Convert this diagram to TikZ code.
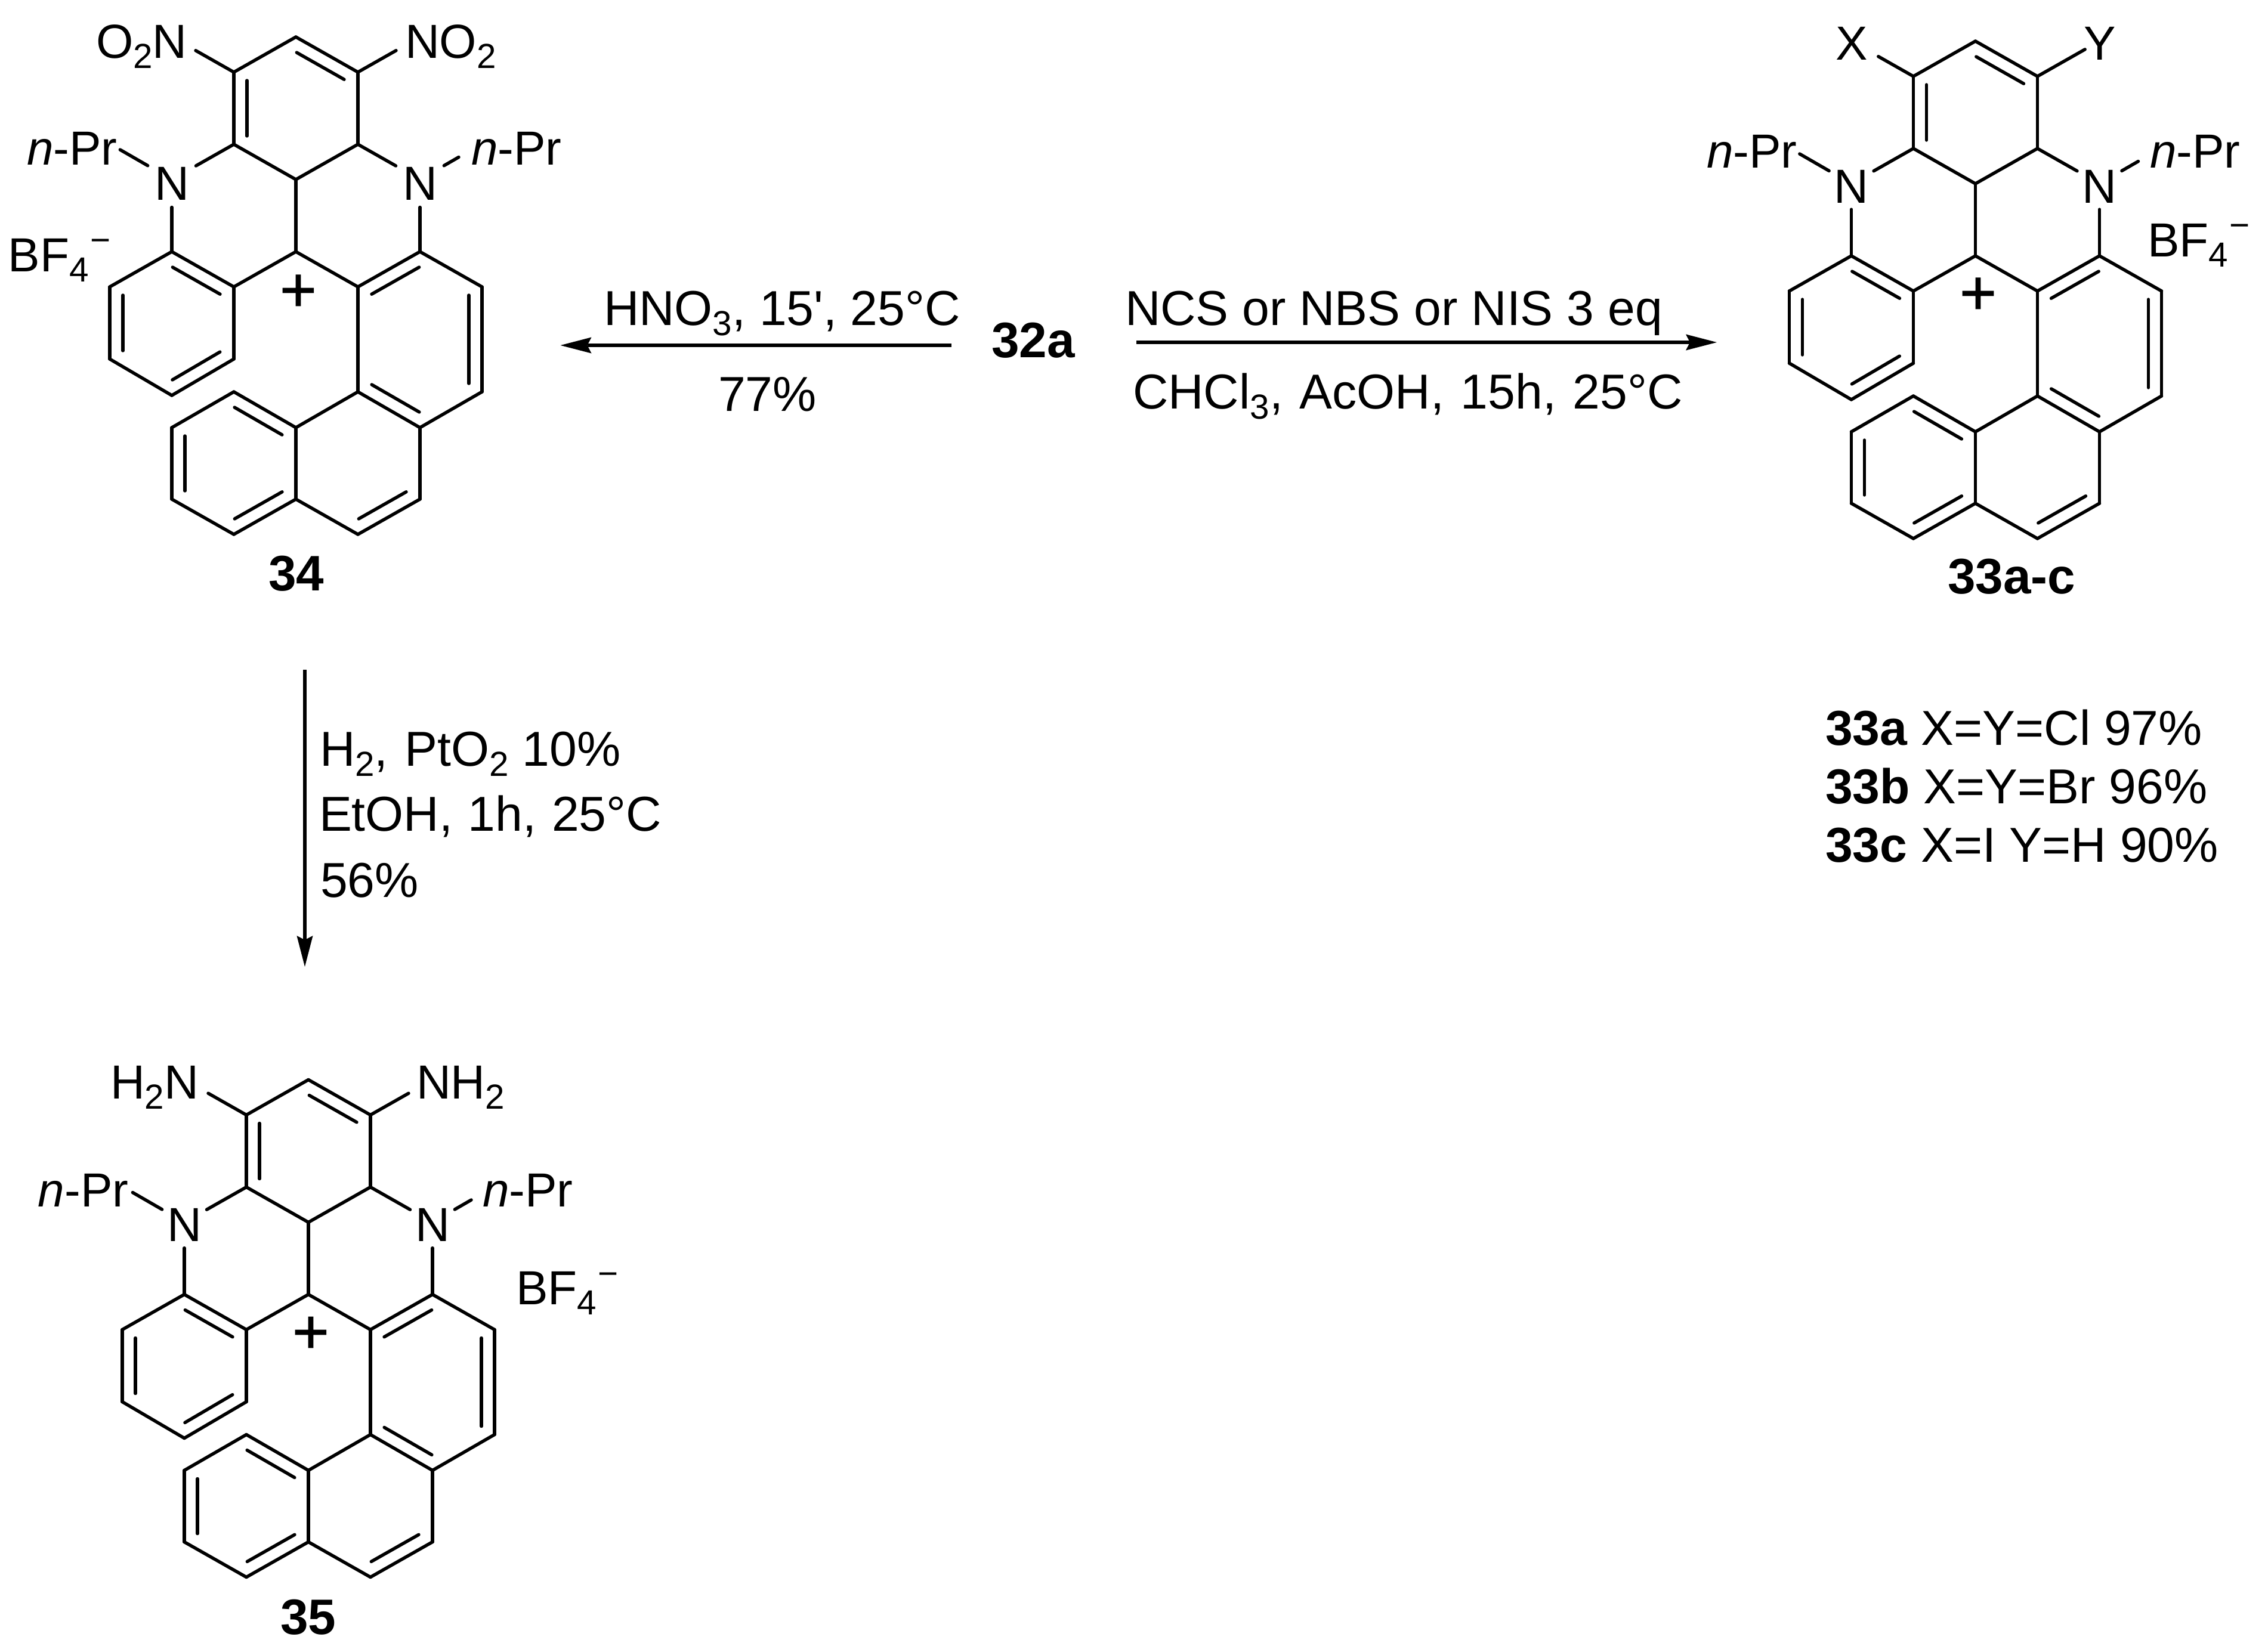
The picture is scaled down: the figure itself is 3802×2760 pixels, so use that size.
\documentclass[tikz,border=0pt]{standalone}
\usepackage{fontspec}
\setmainfont{Liberation Sans}
\newfontfamily\plainf{Liberation Sans}
\newfontfamily\plusf[FakeBold=1.2]{Liberation Sans}
\usetikzlibrary{calc,arrows.meta}
\newcommand\sbs[1]{\raisebox{-0.17cm}{\fontsize{16.6pt}{18pt}\selectfont #1}}
\newcommand\minusup{\hspace{0.03cm}\raisebox{0.32cm}{\fontsize{16.6pt}{18pt}\selectfont −}}
\tikzset{
  bond/.style={line width=1.55pt,line cap=round,line join=round,black},
  rxnarrow/.style={line width=1.7pt,black,-{Stealth[length=0.52cm,width=0.27cm,inset=0.07cm,line width=0pt]}},
  atomtext/.style={inner sep=0pt,outer sep=0pt,font=\fontsize{22.8pt}{26pt}\selectfont,anchor=base west},
  rxntext/.style={inner sep=0pt,outer sep=0pt,font=\fontsize{23.4pt}{27pt}\selectfont,anchor=base west},
  boldlabel/.style={inner sep=0pt,outer sep=0pt,font=\fontsize{23.8pt}{26pt}\selectfont\bfseries,anchor=base},
  plustext/.style={inner sep=0pt,outer sep=0pt,font=\plusf\fontsize{30pt}{32pt}\selectfont,anchor=base},
}
% double-bond inner line: left of the direction #1 -> #2
\newcommand\dbl[2]{%
  \draw[bond] (#1) -- (#2);
  \draw[bond] ($(#1)!0.14cm!(#2)!0.22cm!90:(#2)$) -- ($(#2)!0.14cm!(#1)!0.22cm!-90:(#1)$);}
% #1 prefix, #2 x, #3 y, #4 N radius (cm), #5 2*N baseline drop (cm), #6 top-left gap, #7 top-right gap
\newcommand\mol[7]{%
\begin{scope}[shift={(#2,#3)},name prefix=#1-]
  \coordinate (a) at (0,-239);
  \coordinate (b) at (-104,-180);
  \coordinate (c) at (104,-180);
  \coordinate (d) at (-104,-59);
  \coordinate (e) at (104,-59);
  \coordinate (f) at (0,0);
  \coordinate (g) at (0,121);
  \coordinate (h) at (-104,180);
  \coordinate (i) at (104,180);
  \coordinate (j) at (-208,121);
  \coordinate (k) at (208,121);
  \coordinate (l) at (-312,180);
  \coordinate (m) at (-312,301);
  \coordinate (n) at (-208,362);
  \coordinate (o) at (-104,301);
  \coordinate (p) at (312,180);
  \coordinate (q) at (312,356);
  \coordinate (r) at (208,416);
  \coordinate (s) at (104,356);
  \coordinate (t) at (0,416);
  \coordinate (u) at (-104,356);
  \coordinate (v) at (-208,416);
  \coordinate (w) at (-208,536);
  \coordinate (x) at (-104,595);
  \coordinate (y) at (0,536);
  \coordinate (z) at (104,595);
  \coordinate (aa) at (208,536);
  \coordinate (tl) at (-208,-239);
  \coordinate (tr) at (208,-239);
  \coordinate (pl) at (-312,-60);
  \coordinate (pr) at (312,-60);
  \node[circle,inner sep=0pt,outer sep=0pt,minimum size=2*#4 cm,text height=#5 cm,text depth=0pt,
        font=\fontsize{22.8pt}{26pt}\selectfont] (nl) at (-208,0) {N};
  \node[circle,inner sep=0pt,outer sep=0pt,minimum size=2*#4 cm,text height=#5 cm,text depth=0pt,
        font=\fontsize{22.8pt}{26pt}\selectfont] (nr) at (208,0) {N};
  \draw[bond] (a) -- (b);
  \dbl{c}{a}
  \dbl{b}{d}
  \draw[bond] (c) -- (e);
  \draw[bond] (d) -- (f);
  \draw[bond] (e) -- (f);
  \draw[bond] (f) -- (g);
  \draw[bond] (d) -- (nl);
  \draw[bond] (e) -- (nr);
  \draw[bond] (nl) -- (j);
  \draw[bond] (nr) -- (k);
  \draw[bond] (g) -- (h);
  \draw[bond] (g) -- (i);
  \dbl{h}{j}
  \draw[bond] (j) -- (l);
  \dbl{l}{m}
  \draw[bond] (m) -- (n);
  \dbl{n}{o}
  \draw[bond] (o) -- (h);
  \dbl{k}{i}
  \draw[bond] (k) -- (p);
  \dbl{q}{p}
  \draw[bond] (q) -- (r);
  \dbl{s}{r}
  \draw[bond] (s) -- (i);
  \draw[bond] (s) -- (t);
  \dbl{t}{u}
  \draw[bond] (u) -- (v);
  \dbl{v}{w}
  \draw[bond] (w) -- (x);
  \dbl{x}{y}
  \draw[bond] (y) -- (t);
  \draw[bond] (y) -- (z);
  \dbl{z}{aa}
  \draw[bond] (aa) -- (r);
  \draw[bond,shorten >=#6 cm] (b) -- (tl);
  \draw[bond,shorten >=#7 cm] (c) -- (tr);
  \draw[bond,shorten >=0.20cm] (nl) -- (pl);
  \draw[bond,shorten >=0.45cm] (nr) -- (pr);
\end{scope}}
\begin{document}
\begin{tikzpicture}[x=0.01cm,y=-0.01cm]
\useasboundingbox[fill=white] (0,0) rectangle (3802,2760);

% compound 34
\mol{ma}{496}{301}{0.465}{0.68}{0.46}{0.46}
\node[atomtext] (ma1) at (161,97) {O\sbs{2}N};
\node[atomtext] (ma2) at (679,97) {NO\sbs{2}};
\node[atomtext] (ma3) at (45,276) {\textit{n}-Pr};
\node[atomtext] (ma4) at (790,276) {\textit{n}-Pr};
\node[atomtext] (ma5) at (14,455) {BF\sbs{4}\minusup};
\node[plustext] (ma6) at (500,522) {+};
\node[boldlabel] (ma7) at (497,990) {34};

% compound 33a-c
\mol{mb}{3311.5}{308}{0.43}{0.64}{0.52}{0.28}
\node[atomtext] (mb1) at (3077,100) {X};
\node[atomtext] (mb2) at (3493,100) {Y};
\node[atomtext] (mb3) at (2861,281) {\textit{n}-Pr};
\node[atomtext] (mb4) at (3604,281) {\textit{n}-Pr};
\node[atomtext] (mb5) at (3600,430) {BF\sbs{4}\minusup};
\node[plustext] (mb6) at (3316,527) {+};
\node[boldlabel] (mb7) at (3372,995) {33a-c};

% compound 35
\mol{mc}{517}{2049.5}{0.43}{0.64}{0.46}{0.46}
\node[atomtext] (mc1) at (185,1842) {H\sbs{2}N};
\node[atomtext] (mc2) at (698,1842) {NH\sbs{2}};
\node[atomtext] (mc3) at (64,2023) {\textit{n}-Pr};
\node[atomtext] (mc4) at (809,2023) {\textit{n}-Pr};
\node[atomtext] (mc5) at (865,2187) {BF\sbs{4}\minusup};
\node[plustext] (mc6) at (521,2269) {+};
\node[boldlabel] (mc7) at (517,2740) {35};

% reactions
\node[boldlabel,anchor=base west] (sm) at (1662,599) {32a};
\coordinate (la1) at (1595,579);
\coordinate (la2) at (939.5,579);
\draw[rxnarrow] (la1) -- (la2);
\node[rxntext] (lt1) at (1012,545) {HNO\sbs{3}, 15{\plainf '}, 25°C};
\node[rxntext] (lt2) at (1204,689) {77\%};
\coordinate (ra1) at (1905,574);
\coordinate (ra2) at (2878,574);
\draw[rxnarrow] (ra1) -- (ra2);
\node[rxntext] (rt1) at (1886,545) {NCS or NBS or NIS 3 eq};
\node[rxntext] (rt2) at (1899,685) {CHCl\sbs{3},\hspace{0.05cm} AcOH,\hspace{0.05cm} 15h,\hspace{0.05cm} 25°C};
\coordinate (va1) at (511,1123);
\coordinate (va2) at (511,1621);
\draw[rxnarrow] (va1) -- (va2);
\node[rxntext] (vt1) at (536,1284) {H\sbs{2},\hspace{0.05cm} PtO\sbs{2} 10\%};
\node[rxntext] (vt2) at (535,1393) {EtOH,\hspace{0.03cm} 1h,\hspace{0.03cm} 25°C};
\node[rxntext] (vt3) at (537,1504) {56\%};
\node[rxntext] (yl1) at (3060,1249) {\textbf{33a} X=Y=Cl 97\%};
\node[rxntext] (yl2) at (3060,1347) {\textbf{33b} X=Y=Br 96\%};
\node[rxntext] (yl3) at (3060,1445) {\textbf{33c} X=I Y=H 90\%};
\end{tikzpicture}
\end{document}
